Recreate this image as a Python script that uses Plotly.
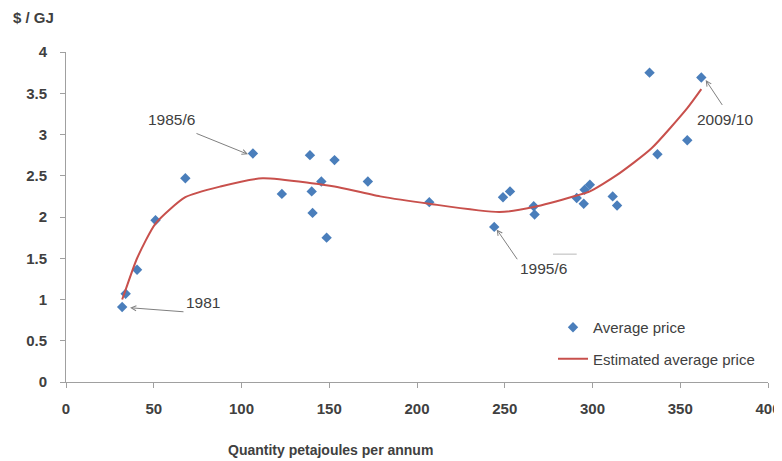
import plotly.graph_objects as go

# Data: quantity (PJ p.a.) and average price ($/GJ)
quantity = [32, 34, 40.5, 51, 68, 106.5, 123, 139, 140, 140.5, 145.5, 148.5, 153, 172,
            207, 244, 249, 253, 266.5, 267, 291, 295, 295.5, 298.5, 311.5, 314,
            332.5, 337, 354, 362]
avg_price = [0.91, 1.07, 1.36, 1.96, 2.47, 2.77, 2.28, 2.75, 2.31, 2.05, 2.43, 1.75, 2.69, 2.43,
             2.18, 1.88, 2.24, 2.31, 2.13, 2.03, 2.23, 2.16, 2.33, 2.39, 2.25, 2.14,
             3.75, 2.76, 2.93, 3.69]

# Estimated (fitted) average price
est_x = [32, 34, 40.5, 51, 68, 88, 112, 140, 153, 179, 207, 247, 266.5, 291, 298.5, 314,
         333.5, 354, 362]
est_y = [1.00, 1.12, 1.50, 1.92, 2.24, 2.37, 2.47, 2.41, 2.37, 2.25, 2.16, 2.06, 2.12, 2.26, 2.31, 2.51,
         2.83, 3.32, 3.55]

x_ticks = [0, 50, 100, 150, 200, 250, 300, 350, 400]
y_ticks = [0, 0.5, 1, 1.5, 2, 2.5, 3, 3.5, 4]
y_tick_labels = ["0", "0.5", "1", "1.5", "2", "2.5", "3", "3.5", "4"]

# Annotations: label, arrow tip (x,y), arrow tail (x,y), text position (x,y)
ann_labels = ["1985/6", "1981", "1995/6", "2009/10"]
ann_tip = [(103.7, 2.76), (36.5, 0.90), (245.4, 1.85), (364.5, 3.66)]
ann_tail = [(73.5, 3.02), (67.8, 0.85), (257.7, 1.47), (374.5, 3.34)]
ann_text = [(60.2, 3.18), (78.2, 0.96), (272, 1.38), (375.5, 3.18)]

FONT = "Liberation Sans"
TXT = "#404040"

fig = go.Figure()
fig.add_trace(go.Scatter(
    x=quantity, y=avg_price, mode="markers", name="Average price",
    marker=dict(symbol="diamond", size=8, color="#4a7ebb"),
    legendgroup="a"))
fig.add_trace(go.Scatter(
    x=est_x, y=est_y, mode="lines", name="Estimated average price",
    line=dict(color="#c8504c", width=2, shape="spline", smoothing=0.6),
    legendgroup="b"))

annotations = []
for lab, tip, tail, tp in zip(ann_labels, ann_tip, ann_tail, ann_text):
    annotations.append(dict(x=tip[0], y=tip[1], ax=tail[0], ay=tail[1], xref="x", yref="y",
                            axref="x", ayref="y", text="", showarrow=True, arrowhead=5,
                            arrowsize=1, arrowwidth=1, arrowcolor="#808080"))
    annotations.append(dict(x=tp[0], y=tp[1], xref="x", yref="y", text=lab, showarrow=False,
                            font=dict(family=FONT, size=15.5, color=TXT)))

annotations.append(dict(x=(33 - 66) / 702, y=(382 - 17) / 330, xref="paper", yref="paper",
                        text="$ / GJ", showarrow=False, xanchor="center", yanchor="middle",
                        font=dict(family=FONT, size=15, color=TXT, weight="bold")))
annotations.append(dict(x=(330 - 66) / 702, y=(382 - 450) / 330, xref="paper", yref="paper",
                        text="Quantity petajoules per annum", showarrow=False,
                        xanchor="center", yanchor="middle",
                        font=dict(family=FONT, size=14, color=TXT, weight="bold")))

# page body has an 8px margin, so the figure is drawn 8px smaller and offset
fig.update_layout(
    width=774, height=453,
    margin=dict(l=58, r=14, t=44, b=79),
    paper_bgcolor="white", plot_bgcolor="white",
    font=dict(family=FONT, color=TXT),
    annotations=annotations,
    shapes=[dict(type="line", xref="x", yref="y", x0=277.5, x1=291, y0=1.55, y1=1.55,
                 line=dict(color="#b8b8b8", width=1))],
    legend=dict(x=(553 - 66) / 702, y=(382 - 311) / 330, xanchor="left", yanchor="top",
                font=dict(family=FONT, size=15, color=TXT), bgcolor="rgba(0,0,0,0)",
                traceorder="grouped", tracegroupgap=9),
    xaxis=dict(range=[0, 400], tickvals=x_ticks, showgrid=False, zeroline=False,
               showline=True, linecolor="#a0a0a0", linewidth=1, ticks="outside",
               ticklen=5, tickcolor="#a0a0a0", ticklabelstandoff=8, automargin=False,
               tickfont=dict(family=FONT, size=15, color=TXT, weight="bold")),
    yaxis=dict(range=[0, 4], tickvals=y_ticks, ticktext=y_tick_labels, showgrid=False,
               zeroline=False, showline=True, linecolor="#a0a0a0", linewidth=1,
               ticks="outside", ticklen=5, tickcolor="#a0a0a0", ticklabelstandoff=10,
               automargin=False,
               tickfont=dict(family=FONT, size=15, color=TXT, weight="bold")),
)

fig.write_html("out.html")
